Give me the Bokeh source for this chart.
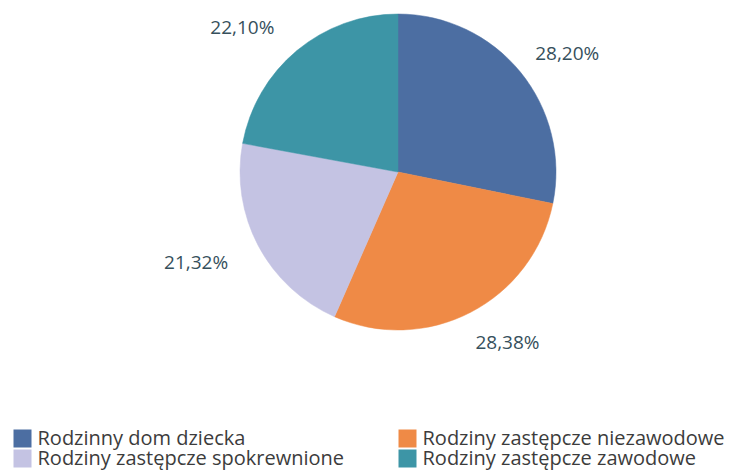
import math
from bokeh.plotting import figure
from bokeh.models import Range1d, ColumnDataSource
from bokeh.core.properties import value
from bokeh.embed import file_html
from bokeh.resources import INLINE

categories = [
    "Rodzinny dom dziecka",
    "Rodziny zastępcze niezawodowe",
    "Rodziny zastępcze spokrewnione",
    "Rodziny zastępcze zawodowe",
]
shares = [28.20, 28.38, 21.32, 22.10]
labels = ["28,20%", "28,38%", "21,32%", "22,10%"]
colors = ["#4c6ea2", "#ef8a46", "#c4c3e3", "#3d95a6"]

W, H = 735, 471
p = figure(width=W, height=H, output_backend="svg", toolbar_location=None,
           x_range=Range1d(0, W), y_range=Range1d(0, H), min_border=0)
p.axis.visible = False
p.grid.visible = False
p.outline_line_color = None
p.background_fill_color = "white"
p.border_fill_color = "white"

cx, cy, r = 397.5, H - 171.5, 158
total = sum(shares)
starts, ends, mids = [], [], []
a = math.pi / 2
for s in shares:
    sweep = s / total * 2 * math.pi
    starts.append(a)
    ends.append(a - sweep)
    mids.append(a - sweep / 2)
    a -= sweep

src = ColumnDataSource(dict(start=starts, end=ends, color=colors))
p.wedge(x=cx, y=cy, radius=r, start_angle="start", end_angle="end",
        direction="clock", fill_color="color", line_color="color",
        line_width=0.5, source=src)

# data labels
R = 190
lx, ly, la = [], [], []
for m in mids:
    x = cx + R * math.cos(m)
    y = cy + R * math.sin(m)
    if math.cos(m) >= 0:
        lx.append(x - 10); la.append("left")
    else:
        lx.append(x - 2); la.append("right")
    ly.append(y - 1)
p.text(x=lx, y=ly, text=labels, text_align=la, text_baseline="middle",
       text_font=value("Open Sans"), text_font_size="19px", text_color="#36505c")

# legend (2 columns, row-major)
col_x = [12, 397]
leg_y0 = H - 438
leg_dy = 20
sq_x, sq_y, tx, ty = [], [], [], []
for i, c in enumerate(categories):
    col, row = i % 2, i // 2
    x0 = col_x[col]
    y0 = leg_y0 - row * leg_dy
    sq_x.append(x0 + 10)
    sq_y.append(y0)
    tx.append(x0 + 25)
    ty.append(y0 + 1)
p.rect(x=sq_x, y=sq_y, width=18, height=18, width_units="screen",
       height_units="screen", fill_color=colors, line_color=None)
p.text(x=tx, y=ty, text=categories, text_align="left", text_baseline="middle",
       text_font=value("Open Sans"), text_font_size="20px", text_color="#3c3c3c")

open("out.html", "w").write(file_html(p, INLINE))
